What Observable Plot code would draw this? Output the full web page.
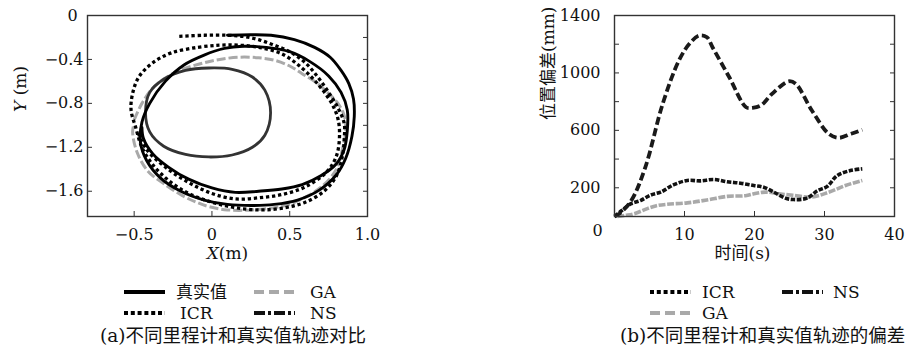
<!DOCTYPE html>
<html>
<head>
<meta charset="utf-8">
<script src="https://cdn.jsdelivr.net/npm/d3@7"></script>
<script src="https://cdn.jsdelivr.net/npm/@observablehq/plot@0.6"></script>
<style>
html, body { margin: 0; padding: 0; background: #fff; }
#wrap { position: relative; width: 909px; height: 356px; overflow: hidden;
  font-family: "DejaVu Serif", "Noto Sans CJK SC", serif; color: #111; }
#left { position: absolute; left: 0; top: 0; }
#right { position: absolute; left: 460px; top: 0; }
.legtxt { position: absolute; height: 20px; line-height: 20px; font-size: 17px; white-space: nowrap; }
.legsw { position: absolute; }
.cap { position: absolute; font-size: 18.5px; line-height: 22px; white-space: nowrap; }
</style>
</head>
<body>
<div id="wrap">
  <div id="left"></div>
  <div id="right"></div>
</div>
<script>
// ---------------- data: panel (a) trajectories (m) ----------------
const seriesNames = ["真实值", "ICR", "GA", "NS"];

const truthX = [0.10, 0.25, 0.38, 0.53, 0.66, 0.76, 0.83, 0.88, 0.91, 0.915, 0.90, 0.86, 0.80, 0.69, 0.55, 0.40, 0.26, 0.10, -0.05, -0.20, -0.33, -0.42, -0.46, -0.45, -0.40, -0.30, -0.18, -0.05, 0.08, 0.20, 0.35, 0.50, 0.63, 0.75, 0.83, 0.87, 0.87, 0.85, 0.80, 0.70, 0.58, 0.45, 0.30, 0.15, 0.00, -0.15, -0.28, -0.38, -0.44, -0.45];
const truthY = [-0.18, -0.175, -0.18, -0.22, -0.29, -0.38, -0.50, -0.62, -0.76, -0.92, -1.10, -1.30, -1.45, -1.59, -1.68, -1.72, -1.73, -1.72, -1.68, -1.60, -1.48, -1.32, -1.15, -0.97, -0.80, -0.60, -0.45, -0.36, -0.30, -0.28, -0.29, -0.33, -0.42, -0.55, -0.70, -0.86, -1.05, -1.22, -1.35, -1.46, -1.54, -1.58, -1.60, -1.61, -1.57, -1.49, -1.38, -1.26, -1.12, -1.02];

const icrX = [-0.21, -0.05, 0.10, 0.20, 0.30, 0.40, 0.50, 0.60, 0.68, 0.75, 0.81, 0.85, 0.85, 0.84, 0.80, 0.72, 0.60, 0.47, 0.32, 0.15, 0.00, -0.15, -0.28, -0.38, -0.45, -0.49, -0.52, -0.51, -0.47, -0.38, -0.26, -0.09, 0.05, 0.17, 0.30, 0.45, 0.58, 0.69, 0.77, 0.81, 0.82, 0.80, 0.74, 0.60, 0.45, 0.30, 0.15, 0.00, -0.15, -0.30, -0.42, -0.48];
const icrY = [-0.19, -0.18, -0.18, -0.19, -0.22, -0.27, -0.33, -0.43, -0.56, -0.70, -0.84, -0.98, -1.13, -1.27, -1.46, -1.60, -1.70, -1.75, -1.77, -1.75, -1.70, -1.62, -1.50, -1.36, -1.20, -1.02, -0.86, -0.71, -0.56, -0.43, -0.34, -0.29, -0.27, -0.27, -0.29, -0.35, -0.48, -0.64, -0.80, -0.94, -1.10, -1.28, -1.42, -1.56, -1.63, -1.66, -1.67, -1.62, -1.52, -1.38, -1.22, -1.05];

const gaX = [-0.50, -0.45, -0.38, -0.30, -0.21, -0.05, 0.05, 0.17, 0.30, 0.41, 0.50, 0.58, 0.67, 0.75, 0.81, 0.85, 0.86, 0.84, 0.80, 0.72, 0.62, 0.47, 0.26, 0.10, -0.02, -0.10, -0.19, -0.30, -0.41, -0.48, -0.51, -0.50];
const gaY = [-0.95, -0.80, -0.66, -0.57, -0.50, -0.43, -0.40, -0.38, -0.385, -0.41, -0.46, -0.53, -0.61, -0.71, -0.80, -0.91, -1.05, -1.21, -1.40, -1.54, -1.64, -1.73, -1.77, -1.77, -1.74, -1.70, -1.64, -1.54, -1.42, -1.25, -1.06, -0.98];

const nsX = [0.377, 0.34, 0.26, 0.13, -0.02, -0.17, -0.31, -0.40, -0.427, -0.40, -0.31, -0.17, -0.02, 0.13, 0.26, 0.34];
const nsY = [-0.885, -0.68, -0.56, -0.49, -0.478, -0.50, -0.58, -0.70, -0.885, -1.06, -1.19, -1.265, -1.288, -1.27, -1.20, -1.09];

const aXTicks = [-0.5, 0, 0.5, 1.0];
const aYTicks = [0, -0.4, -0.8, -1.2, -1.6];
const aYMinorTicks = [-0.2, -0.4, -0.6, -0.8, -1.0, -1.2, -1.4, -1.6];

// ---------------- data: panel (b) position deviation (mm) vs time (s) ----------------
const nsT = [0, 0.7, 2.4, 4.4, 6.9, 9.2, 10.7, 12.1, 13.2, 14, 16.4, 18.8, 19.7, 20.9, 22.5, 24.9, 25.9, 28.2, 30.6, 32, 33.8, 35.4];
const nsV = [0, 20, 111, 343, 787, 1086, 1203, 1260, 1249, 1179, 970, 761, 757, 773, 854, 942, 924, 738, 576, 548, 576, 604];

const icrT = [0, 1, 2.3, 3.7, 5.2, 6.6, 8.4, 10.4, 12.3, 14.2, 16.1, 18, 19.9, 21.3, 22.8, 24.4, 25.6, 27.5, 29, 30.4, 31.8, 33.7, 35.4];
const icrV = [0, 40, 88, 111, 150, 170, 220, 251, 248, 258, 242, 232, 216, 204, 169, 128, 118, 128, 180, 210, 285, 320, 332];

const gaT = [0.4, 1.5, 2.8, 4.7, 6, 7.5, 10.4, 13.2, 16.1, 18.7, 20.1, 21.6, 23.5, 25.5, 28.2, 30.6, 33, 35.4];
const gaV = [0, 8, 19, 55, 75, 85, 95, 115, 140, 145, 160, 170, 158, 148, 136, 169, 216, 251];

const bXTicks = [0, 10, 20, 30, 40];
const bYTicks = [200, 600, 1000, 1400];
const bYMinorTicks = [200, 400, 600, 800, 1000, 1200];

// ---------------- helpers ----------------
const pts = (xs, ys) => xs.map((x, i) => ({x, y: ys[i]}));
const fmtA = d => d === 0 ? "0" : (d < 0 ? "\u2212" : "") + Math.abs(d).toFixed(1);
const FONT = "DejaVu Serif, Noto Sans CJK SC, serif";
const TXT = "#111";
const FRAME = "#333";

function italicize(svg, full, first) {
  svg.querySelectorAll("text").forEach(t => {
    if (t.textContent === full) {
      t.textContent = "";
      const ts = document.createElementNS("http://www.w3.org/2000/svg", "tspan");
      ts.setAttribute("font-style", "italic");
      ts.textContent = first;
      t.appendChild(ts);
      t.appendChild(document.createTextNode(full.slice(first.length)));
    }
  });
}

// ---------------- panel (a) ----------------
const plotA = Plot.plot({
  width: 400, height: 270,
  marginLeft: 87, marginRight: 33, marginTop: 15, marginBottom: 54,
  x: {domain: [-0.8, 1.0]},
  y: {domain: [-1.83, 0]},
  style: {fontFamily: FONT, fontSize: "16px", color: TXT, background: "transparent", overflow: "visible"},
  marks: [
    Plot.line(pts(gaX, gaY), {x: "x", y: "y", stroke: "#a9a9a9", strokeWidth: 3, strokeDasharray: "9,3", strokeLinecap: "butt", curve: "catmull-rom"}),
    Plot.line(pts(nsX, nsY), {x: "x", y: "y", stroke: "#333", strokeWidth: 2.8, curve: "catmull-rom-closed"}),
    Plot.line(pts(truthX, truthY), {x: "x", y: "y", stroke: "#000", strokeWidth: 2.9, curve: "catmull-rom"}),
    Plot.line(pts(icrX, icrY), {x: "x", y: "y", stroke: "#000", strokeWidth: 3.3, strokeDasharray: "3.3,2.8", strokeLinecap: "butt", curve: "catmull-rom"}),
    Plot.frame({stroke: FRAME, strokeWidth: 1.4}),
    Plot.axisX(aXTicks, {tickSize: 0, tickPadding: 12, tickFormat: fmtA, label: null, fontSize: 16, fill: TXT}),
    Plot.axisX(aXTicks.slice(0, 3), {tickSize: -5, fill: "none", stroke: FRAME, label: null}),
    Plot.axisY(aYTicks.filter(d => d !== 0), {tickSize: 0, tickPadding: 4, tickFormat: fmtA, label: null, fontSize: 16, fill: TXT}),
    Plot.axisY(aYTicks.filter(d => d !== 0), {tickSize: -5, fill: "none", stroke: FRAME, label: null}),
    Plot.axisY(aYMinorTicks, {anchor: "right", tickSize: -5, fill: "none", stroke: FRAME, label: null}),
    Plot.text(aYTicks.filter(d => d === 0), {frameAnchor: "top-left", text: d => fmtA(d), dx: -20, dy: -6, fontSize: 16, fill: TXT}),
    Plot.text(["X(m)"], {frameAnchor: "bottom", text: d => d, dy: 42, fontSize: 17, fill: TXT}),
    Plot.text(["Y (m)"], {frameAnchor: "left", text: d => d, dx: -67, dy: -4, rotate: -90, fontSize: 17, fill: TXT})
  ]
});
italicize(plotA, "X(m)", "X");
italicize(plotA, "Y (m)", "Y");
document.getElementById("left").appendChild(plotA);

// ---------------- panel (b) ----------------
const plotB = Plot.plot({
  width: 449, height: 270,
  marginLeft: 154, marginRight: 15, marginTop: 15, marginBottom: 54,
  x: {domain: [0, 40]},
  y: {domain: [0, 1400]},
  style: {fontFamily: FONT, fontSize: "16px", color: TXT, background: "transparent", overflow: "visible"},
  marks: [
    Plot.line(pts(gaT, gaV), {x: "x", y: "y", stroke: "#a9a9a9", strokeWidth: 3.6, strokeDasharray: "7,1.6", strokeLinecap: "butt", curve: "catmull-rom"}),
    Plot.line(pts(icrT, icrV), {x: "x", y: "y", stroke: "#111", strokeWidth: 3.6, strokeDasharray: "4.5,1.6", strokeLinecap: "butt", curve: "catmull-rom"}),
    Plot.line(pts(nsT, nsV), {x: "x", y: "y", stroke: "#1a1a1a", strokeWidth: 3.8, strokeDasharray: "8,3.5", strokeLinecap: "butt", curve: "catmull-rom"}),
    Plot.frame({stroke: FRAME, strokeWidth: 1.4}),
    Plot.axisX(bXTicks.filter(d => d !== 0), {tickSize: 0, tickPadding: 12, tickFormat: d => String(d), label: null, fontSize: 16, fill: TXT}),
    Plot.axisX(bXTicks.filter(d => d > 0 && d < 40), {tickSize: -5, fill: "none", stroke: FRAME, label: null}),
    Plot.axisY(bYTicks, {tickSize: 0, tickPadding: 14, tickFormat: d => String(d), label: null, fontSize: 16, fill: TXT}),
    Plot.axisY(bYMinorTicks, {tickSize: -5, fill: "none", stroke: FRAME, label: null}),
    Plot.axisY(bYMinorTicks, {anchor: "right", tickSize: -5, fill: "none", stroke: FRAME, label: null}),
    Plot.text(bXTicks.filter(d => d === 0), {frameAnchor: "bottom-left", text: d => String(d), dx: -22, dy: 19, fontSize: 16, fill: TXT}),
    Plot.text(["时间(s)"], {frameAnchor: "bottom", text: d => d, dx: -12, dy: 42, fontSize: 17, fill: TXT}),
    Plot.text(["位置偏差(mm)"], {frameAnchor: "left", text: d => d, dx: -66, dy: 4, rotate: -90, fontSize: 17, fill: TXT})
  ]
});
document.getElementById("right").appendChild(plotB);

// ---------------- legends & captions (outside the SVGs) ----------------
const styles = {
  "真实值": {stroke: "#000", dash: null},
  "ICR": {stroke: "#000", dash: "4,2.8"},
  "GA": {stroke: "#a9a9a9", dash: "10,5"},
  "NS": {stroke: "#111", dash: "11,3,3,3"}
};
const wrap = document.getElementById("wrap");
function legendItem(name, sx, cy, tx) {
  const s = styles[name];
  const ns = "http://www.w3.org/2000/svg";
  const svg = document.createElementNS(ns, "svg");
  svg.setAttribute("width", 41); svg.setAttribute("height", 8);
  svg.setAttribute("class", "legsw");
  svg.style.left = sx + "px"; svg.style.top = (cy - 4) + "px";
  const l = document.createElementNS(ns, "line");
  l.setAttribute("x1", 0); l.setAttribute("x2", 41); l.setAttribute("y1", 4); l.setAttribute("y2", 4);
  l.setAttribute("stroke", s.stroke); l.setAttribute("stroke-width", 4);
  if (s.dash) l.setAttribute("stroke-dasharray", s.dash);
  svg.appendChild(l);
  wrap.appendChild(svg);
  const t = document.createElement("div");
  t.className = "legtxt";
  t.style.left = tx + "px"; t.style.top = (cy - 10) + "px";
  t.textContent = name;
  wrap.appendChild(t);
}
legendItem(seriesNames[0], 124, 292, 176);
legendItem(seriesNames[2], 254, 292, 310);
legendItem(seriesNames[1], 124, 313, 180);
legendItem(seriesNames[3], 254, 313, 310);

legendItem(seriesNames[1], 650, 292, 702);
legendItem(seriesNames[3], 782, 292, 833);
legendItem(seriesNames[2], 650, 313, 702);

function caption(text, x, cy) {
  const c = document.createElement("div");
  c.className = "cap";
  c.style.left = x + "px"; c.style.top = (cy - 11) + "px";
  c.textContent = text;
  wrap.appendChild(c);
}
caption("(a)不同里程计和真实值轨迹对比", 100, 336);
caption("(b)不同里程计和真实值轨迹的偏差", 620, 336);
</script>
</body>
</html>
